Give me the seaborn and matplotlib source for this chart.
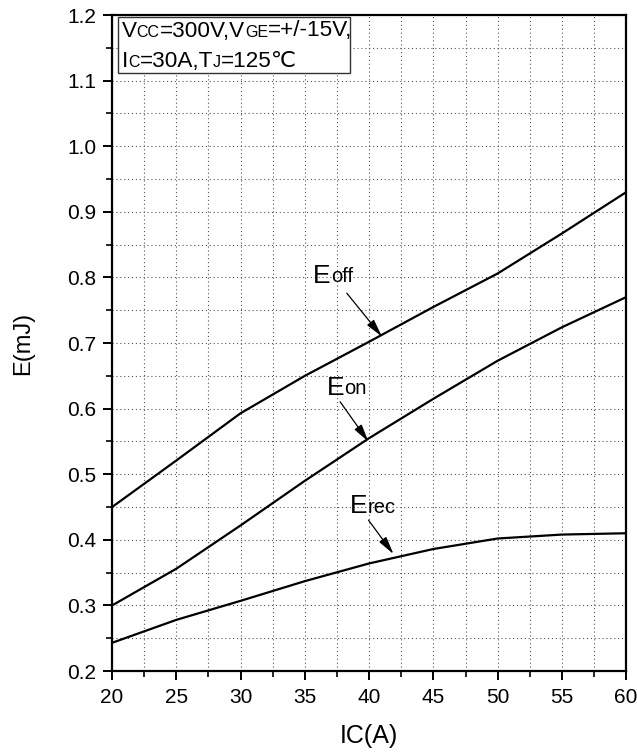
import matplotlib
matplotlib.use("Agg")
import matplotlib.pyplot as plt
from matplotlib.ticker import MultipleLocator, FormatStrFormatter
from matplotlib.patches import Rectangle
import seaborn as sns
import pandas as pd

# Switching energy vs. collector current
ic_a = [20, 25, 30, 35, 40, 45, 50, 55, 60]
e_off = [0.450, 0.521, 0.593, 0.650, 0.702, 0.755, 0.806, 0.867, 0.930]
e_on = [0.300, 0.356, 0.422, 0.490, 0.555, 0.615, 0.673, 0.724, 0.770]
e_rec = [0.243, 0.278, 0.307, 0.337, 0.364, 0.386, 0.402, 0.408, 0.410]

x_ticks = [20, 25, 30, 35, 40, 45, 50, 55, 60]
y_ticks = [0.2, 0.3, 0.4, 0.5, 0.6, 0.7, 0.8, 0.9, 1.0, 1.1, 1.2]

sns.set_theme(style="ticks")
plt.rcParams["font.family"] = ["Liberation Sans Narrow", "Liberation Sans", "DejaVu Sans"]

df = pd.DataFrame({"IC": ic_a * 3,
                   "E": e_off + e_on + e_rec,
                   "curve": ["Eoff"] * len(ic_a) + ["Eon"] * len(ic_a) + ["Erec"] * len(ic_a)})

fig = plt.figure(figsize=(6.37, 7.52), dpi=100)
ax = fig.add_axes([0.176, 0.1077, 0.807, 0.8723])

sns.lineplot(data=df, x="IC", y="E", units="curve", estimator=None,
             color="black", linewidth=1.6, ax=ax, legend=False)

ax.set_xlim(20, 60)
ax.set_ylim(0.2, 1.2)
ax.set_xticks(x_ticks)
ax.set_yticks(y_ticks)
ax.xaxis.set_minor_locator(MultipleLocator(2.5))
ax.yaxis.set_minor_locator(MultipleLocator(0.05))
ax.yaxis.set_major_formatter(FormatStrFormatter("%.1f"))

ax.grid(True, which="both", linestyle=(0, (1, 2.5)), color="#555555", linewidth=0.8)
ax.set_axisbelow(True)

for s in ax.spines.values():
    s.set_visible(True)
    s.set_color("black")
    s.set_linewidth(1.6)

ax.tick_params(axis="both", which="major", direction="out", length=6.5, width=1.4,
               labelsize=15, colors="black")
ax.tick_params(axis="both", which="minor", direction="out", length=4, width=1.2, colors="black")
ax.tick_params(axis="x", which="major", pad=6)
ax.tick_params(axis="y", which="major", pad=5)

ax.set_xlabel("IC(A)", fontsize=18, labelpad=12, color="black")
ax.set_ylabel("E(mJ)", fontsize=17, labelpad=24, color="black")

DESCENT = 0.212  # descent of the sans face, in em


def attach(prev, txt, size, prev_size, **kw):
    # place txt right after prev, sharing its baseline
    return ax.annotate(txt, xy=(1, 0), xycoords=prev, ha="left", va="baseline",
                       xytext=(0, DESCENT * prev_size), textcoords="offset points",
                       fontsize=size, color="black", **kw)


def label_with_sub(x, y, main, sub, tail, head):
    t = ax.text(x, y, main, fontsize=19, ha="left", va="baseline", color="black")
    attach(t, sub, 14.5, 19)
    ax.annotate("", xy=head, xytext=tail,
                arrowprops=dict(arrowstyle="-|>,head_length=0.9,head_width=0.22",
                                color="black", lw=0.9, shrinkA=0, shrinkB=0))


label_with_sub(35.64, 0.7915, "E", "off", (38.26, 0.776), (40.99, 0.710))
label_with_sub(36.71, 0.6207, "E", "on", (37.74, 0.6105), (39.95, 0.5495))
label_with_sub(38.52, 0.4404, "E", "rec", (39.95, 0.430), (41.89, 0.3784))

# Test conditions box
ax.add_patch(Rectangle((0.0117, 0.911), 0.4513, 0.0865, transform=ax.transAxes,
                       facecolor="white", edgecolor="#333333", linewidth=1.0, zorder=3))


def chained(x, y, parts):
    prev, prev_size = None, None
    for txt, size in parts:
        if prev is None:
            prev = ax.text(x, y, txt, fontsize=size, transform=ax.transAxes,
                           ha="left", va="baseline", color="black", zorder=4)
        else:
            prev = attach(prev, txt, size, prev_size, zorder=4)
        prev_size = size


big, small = 16.2, 11.5
chained(0.0187, 0.967, [("V", big), ("CC", small), ("=300V,V", big), ("GE", small),
                        ("=+/-15V,", big)])
chained(0.0187, 0.9207, [("I", big), ("C", small), ("=30A,T", big), ("J", small),
                         ("=125℃", big)])

fig.savefig("out.png", dpi=100)
